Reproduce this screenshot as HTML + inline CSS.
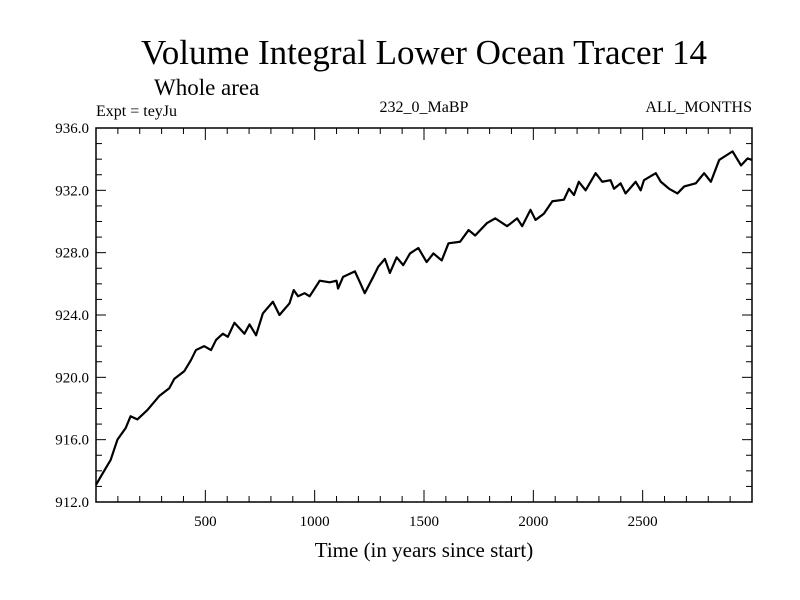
<!DOCTYPE html>
<html><head><meta charset="utf-8"><style>
body{margin:0;background:#fff}
svg{display:block;font-family:"Liberation Serif",serif}
</style></head><body>
<svg id="chart" width="800" height="600" viewBox="0 0 800 600">
<rect width="800" height="600" fill="#fff"/>
<text x="424" y="64" font-size="35" text-anchor="middle">Volume Integral Lower Ocean Tracer 14</text>
<text x="154" y="95" font-size="23">Whole area</text>
<text x="96" y="116" font-size="16">Expt = teyJu</text>
<text x="424" y="112" font-size="16" text-anchor="middle">232_0_MaBP</text>
<text x="752" y="112" font-size="16" text-anchor="end">ALL_MONTHS</text>
<g id="axes"></g>
<text x="424" y="557" font-size="21" text-anchor="middle">Time (in years since start)</text>
</svg>
<script>
const years=[0,29,67,98,136,158,189,235,289,335,358,404,434,457,495,526,549,580,603,633,679,702,732,763,809,839,885,904,924,954,977,1023,1069,1100,1107,1130,1184,1207,1229,1268,1291,1321,1344,1375,1405,1436,1474,1512,1543,1581,1612,1665,1704,1734,1788,1826,1880,1926,1949,1987,2010,2048,2087,2140,2163,2186,2208,2239,2285,2315,2353,2369,2399,2422,2468,2491,2506,2560,2583,2621,2659,2690,2743,2781,2812,2850,2911,2950,2980,3000];
const values=[913.1,913.8,914.7,916.0,916.75,917.5,917.3,917.9,918.8,919.3,919.9,920.4,921.1,921.75,922.0,921.75,922.4,922.8,922.6,923.5,922.8,923.4,922.7,924.1,924.85,924.0,924.75,925.6,925.2,925.4,925.2,926.2,926.1,926.2,925.7,926.45,926.8,926.1,925.4,926.45,927.1,927.6,926.7,927.7,927.2,927.95,928.3,927.4,927.95,927.5,928.6,928.7,929.45,929.1,929.9,930.2,929.7,930.2,929.7,930.75,930.1,930.5,931.3,931.4,932.1,931.7,932.55,932.0,933.1,932.55,932.65,932.1,932.45,931.8,932.55,932.0,932.65,933.1,932.55,932.1,931.8,932.25,932.45,933.1,932.55,933.95,934.5,933.6,934.05,933.95];
const xTicks=[500,1000,1500,2000,2500];
const yTicks=[912,916,920,924,928,932,936];
const X0=96,X1=752,Y0=502,Y1=128,xMin=0,xMax=3000,yMin=912,yMax=936;
const sx=v=>X0+(v-xMin)/(xMax-xMin)*(X1-X0);
const sy=v=>Y0-(v-yMin)/(yMax-yMin)*(Y0-Y1);
const NS="http://www.w3.org/2000/svg",g=document.getElementById('axes');
function mk(t,a){const e=document.createElementNS(NS,t);for(const k in a)e.setAttribute(k,a[k]);g.appendChild(e);return e;}
const frame=mk('rect',{x:X0,y:Y1,width:X1-X0,height:Y0-Y1,fill:'none',stroke:'#000','stroke-width':1.5});


for(let v=100;v<xMax;v+=100){const L=v%500===0?12:6;const x=sx(v);
const t1=mk('line',{x1:x,x2:x,y1:Y0,y2:Y0-L,stroke:'#000'});


const t2=mk('line',{x1:x,x2:x,y1:Y1,y2:Y1+L,stroke:'#000'});

}
for(let v=yMin+1;v<yMax;v+=1){const L=(v-yMin)%4===0?10:6;const y=sy(v);
const t1=mk('line',{x1:X0,x2:X0+L,y1:y,y2:y,stroke:'#000'});


const t2=mk('line',{x1:X1,x2:X1-L,y1:y,y2:y,stroke:'#000'});

}
xTicks.forEach(v=>{const t=mk('text',{x:sx(v),y:Y0+24,'font-size':15,'text-anchor':'middle'});t.textContent=v;

});
yTicks.forEach(v=>{const t=mk('text',{x:X0-7,y:sy(v)+5,'font-size':15,'text-anchor':'end'});t.textContent=v.toFixed(1);

});
const p=mk('polyline',{points:years.map((y,i)=>sx(y)+','+sy(values[i])).join(' '),fill:'none',stroke:'#000','stroke-width':2.2,'stroke-linejoin':'round'});


</script>
</body></html>
